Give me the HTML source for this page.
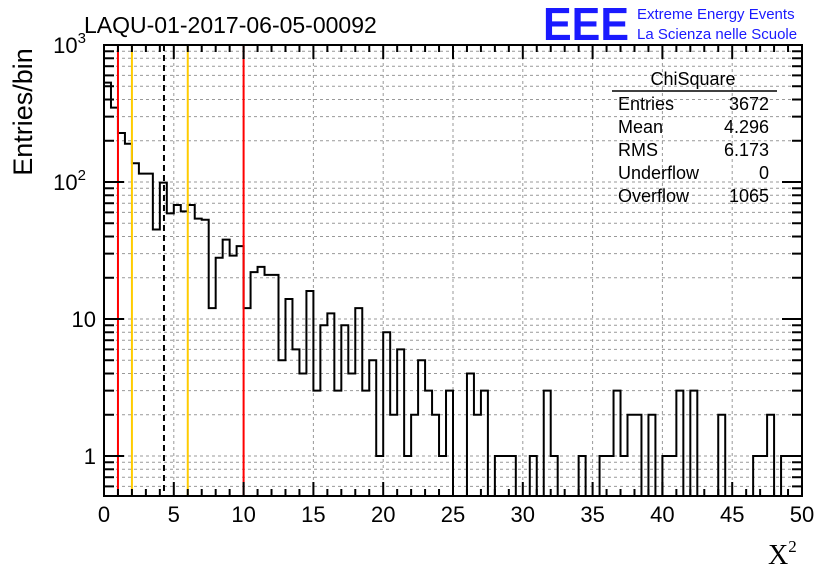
<!DOCTYPE html>
<html><head><meta charset="utf-8"><style>
body{margin:0;background:#fff;}
svg{display:block;font-family:"Liberation Sans",sans-serif;}
</style></head><body>
<svg id="chart" width="836" height="572" viewBox="0 0 836 572">
<text x="84" y="33" font-size="23">LAQU-01-2017-06-05-00092</text>
<g>
<text x="543" y="40" font-size="46" font-weight="bold" fill="#1a1aff" textLength="86" lengthAdjust="spacingAndGlyphs">EEE</text>
<text x="637" y="19" font-size="15" fill="#1a1aff">Extreme Energy Events</text>
<text x="637" y="39" font-size="15" fill="#1a1aff">La Scienza nelle Scuole</text>
</g>
<text transform="translate(32,112) rotate(-90)" font-size="27" text-anchor="middle">Entries/bin</text>
<text x="768" y="564" font-size="28" font-family="Liberation Serif,serif">X<tspan font-size="17" dy="-12">2</tspan></text>
<g id="grid"></g>
<g id="marks"></g>
<g id="axes"></g>
<g font-size="18">
<text x="693" y="85" text-anchor="middle">ChiSquare</text>
<line x1="612" y1="91" x2="777" y2="91" stroke="#000" stroke-width="1.5"/>
<text x="618" y="110">Entries</text><text x="769" y="110" text-anchor="end">3672</text>
<text x="618" y="133">Mean</text><text x="769" y="133" text-anchor="end">4.296</text>
<text x="618" y="156">RMS</text><text x="769" y="156" text-anchor="end">6.173</text>
<text x="618" y="179">Underflow</text><text x="769" y="179" text-anchor="end">0</text>
<text x="618" y="202">Overflow</text><text x="769" y="202" text-anchor="end">1065</text>
</g>
</svg>
<script>
const counts=[531,349,228,190,137,115,115,45,99,59,68,61,68,54,53,12,28,38,29,34,12,22,24,21,21,5,14,6,4,16,3,9,11,3,9,4,12,3,5,1,8,2,6,1,2,5,3,2,1,3,0,0,4,2,3,0,1,1,1,0,0,1,0,3,1,0,0,0,1,0,0,1,1,3,1,2,2,0,2,0,1,1,3,0,3,0,0,0,2,0,0,0,0,1,1,2,0,1,1,1];
const binWidth=[0.5];
const xTicks=[0,5,10,15,20,25,30,35,40,45,50];
const yDecades=[1,10,100,1000];
const vLineValues=[1,2,4.296,6,10];
const vLineKinds=["red","orange","dashed","orange","red"];
const L=104,R=802,T=45,B=496,X0=0,X1=50,YMIN=0.5,DEC=137;
const NS="http://www.w3.org/2000/svg";
function xs(v){return L+(v-X0)/(X1-X0)*(R-L);}
function ys(v){if(v<=0)return B;const y=456-DEC*Math.log10(v);return Math.min(y,B);}
function mk(tag,attrs,parent){const e=document.createElementNS(NS,tag);for(const k in attrs)e.setAttribute(k,attrs[k]);document.getElementById(parent).appendChild(e);return e;}
for(const t of xTicks){if(t===X0||t===X1)continue;
const g=mk("line",{x1:xs(t),x2:xs(t),y1:T,y2:B,stroke:"#999","stroke-dasharray":"3,3","stroke-width":1},"grid");

}
for(const d of [0.1,1,10,100]){for(let m=1;m<10;m++){const v=d*m;if(v<YMIN||v>=1000)continue;const y=ys(v);if(y>=B||y<=T)continue;
const g=mk("line",{x1:L,x2:R,y1:y,y2:y,stroke:"#999","stroke-dasharray":"3,3","stroke-width":1},"grid");

}}
let d="M"+L+","+B;
counts.forEach((c,i)=>{const x0=xs(i*binWidth[0]),x1=xs((i+1)*binWidth[0]);const y=ys(c);d+=" L"+x0+","+y+" L"+x1+","+y;});
d+=" L"+R+","+B;
const h=mk("path",{d:d,fill:"none",stroke:"#000","stroke-width":2},"marks");


vLineValues.forEach((v,i)=>{const k=vLineKinds[i];const col=k==="red"?"#ff0000":k==="orange"?"#ffcc00":"#000";
const a={x1:xs(v),x2:xs(v),y1:T,y2:B,stroke:col,"stroke-width":2};if(k==="dashed")a["stroke-dasharray"]="6,4";
const l=mk("line",a,"marks");

});
const fr=mk("rect",{x:L,y:T,width:R-L,height:B-T,fill:"none",stroke:"#000","stroke-width":2},"axes");


for(let i=0;i<=50;i++){const x=xs(i);const len=i%5===0?14:7;
mk("line",{x1:x,x2:x,y1:B,y2:B-len,stroke:"#000","stroke-width":2},"axes");
mk("line",{x1:x,x2:x,y1:T,y2:T+len,stroke:"#000","stroke-width":2},"axes");}
xTicks.forEach(t=>{const tx=mk("text",{x:xs(t),y:522,"font-size":22,"text-anchor":"middle"},"axes");tx.textContent=t;

});
for(const dd of [0.1,1,10,100]){for(let m=1;m<10;m++){const v=dd*m;if(v<YMIN||v>1000)continue;const y=ys(v);if(y>B||y<T-1)continue;const len=m===1?20:10;
mk("line",{x1:L,x2:L+len,y1:y,y2:y,stroke:"#000","stroke-width":2},"axes");
mk("line",{x1:R,x2:R-len,y1:y,y2:y,stroke:"#000","stroke-width":2},"axes");}}
mk("line",{x1:L,x2:L+20,y1:ys(1000),y2:ys(1000),stroke:"#000","stroke-width":2},"axes");
yDecades.forEach(v=>{const y=ys(v);const tx=mk("text",{x:96,y:y+8,"font-size":22,"text-anchor":"end"},"axes");
if(v===1||v===10)tx.textContent=v;else{tx.textContent="10";const s=document.createElementNS(NS,"tspan");s.setAttribute("font-size","15");s.setAttribute("dy","-10");s.textContent=Math.round(Math.log10(v));tx.appendChild(s);tx.setAttribute("x",86);}

});
</script>
</body></html>
